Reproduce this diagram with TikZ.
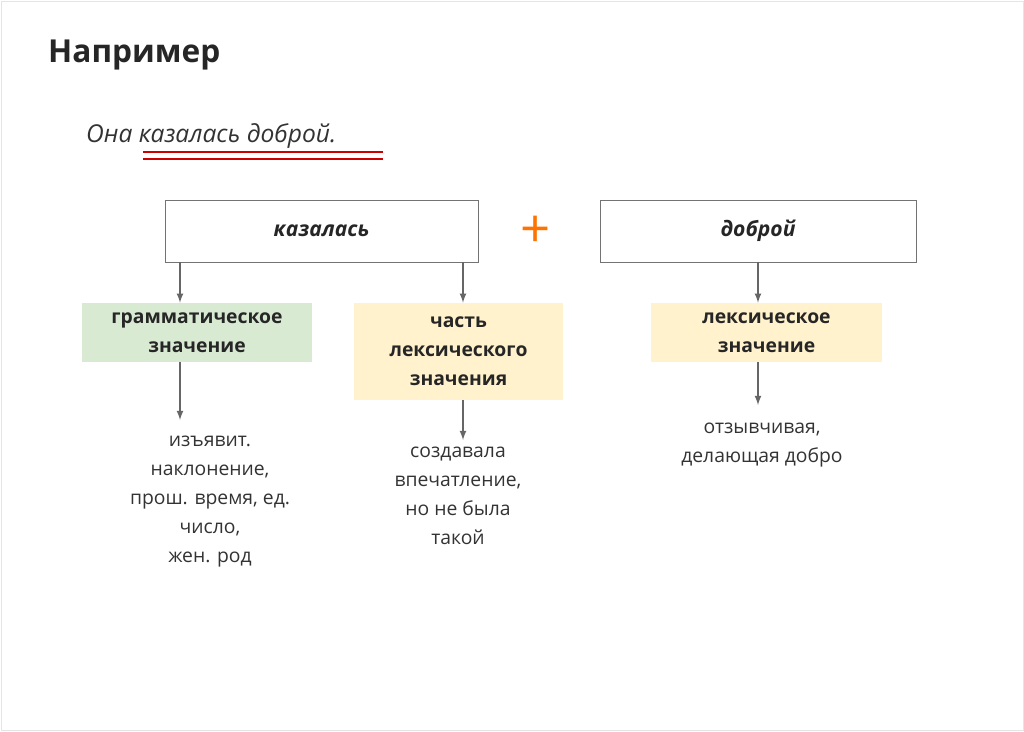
\documentclass[tikz,border=0pt]{standalone}
\usepackage{fontspec}
\setmainfont{Open Sans}
\begin{document}
\begin{tikzpicture}[x=0.02cm,y=-0.02cm,
  txt/.style={text=black!80, font=\fontsize{11}{16.5}\selectfont, align=center},
  wbox/.style={draw=black!55, fill=white, minimum width=6.26cm, minimum height=1.24cm, font=\bfseries\itshape\fontsize{12}{14}\selectfont, text=black!85},
  cbox/.style={draw=none, font=\bfseries\fontsize{11}{16.5}\selectfont, text=black!85, align=center},
  arr/.style={draw=black!60, line width=0.8pt, -latex}]
\useasboundingbox (0,0) rectangle (1024,731);
\draw[black!10] (1,1) rectangle (1023,730);
\node[anchor=west, font=\bfseries\fontsize{18}{20}\selectfont, text=black!85] (title) at (42,55) {Например};
\node[anchor=west, font=\itshape\fontsize{14}{16}\selectfont, text=black!80] (sent) at (80,136) {Она казалась доброй.};
\draw[red!80!black, line width=1.2pt] (143,152) -- (383,152) (143,159) -- (383,159);
\node[wbox] (kaz) at (321.5,231) {казалась};
\node[wbox, minimum width=6.32cm] (dob) at (758,231) {доброй};
\node[text=orange!90!red, font=\fontsize{30}{30}\selectfont] (plus) at (536,232) {+};
\node[cbox, fill={rgb,255:red,217;green,234;blue,211}, minimum width=4.6cm, minimum height=1.18cm] (gram) at (197,332.5) {грамматическое\\значение};
\node[cbox, fill={rgb,255:red,255;green,242;blue,204}, minimum width=4.18cm, minimum height=1.94cm] (part) at (458.5,351.5) {часть\\лексического\\значения};
\node[cbox, fill={rgb,255:red,255;green,242;blue,204}, minimum width=4.62cm, minimum height=1.18cm] (lex) at (766.5,332.5) {лексическое\\значение};
\draw[arr] (kaz.south -| 180,0) -- (gram.north -| 180,0);
\draw[arr] (kaz.south -| 463,0) -- (part.north -| 463,0);
\draw[arr] (dob.south -| 758,0) -- (lex.north -| 758,0);
\coordinate (e1) at (180,420);
\coordinate (e2) at (463,440);
\coordinate (e3) at (758,405);
\draw[arr] (gram.south -| e1) -- (e1);
\draw[arr] (part.south -| e2) -- (e2);
\draw[arr] (lex.south -| e3) -- (e3);
\node[txt, anchor=north] (t1) at (210,430) {изъявит.\\наклонение,\\прош. время, ед.\\число,\\жен. род};
\node[txt, anchor=north] (t2) at (458,441) {создавала\\впечатление,\\но не была\\такой};
\node[txt, anchor=north] (t3) at (762,417) {отзывчивая,\\делающая добро};
\end{tikzpicture}
\end{document}
